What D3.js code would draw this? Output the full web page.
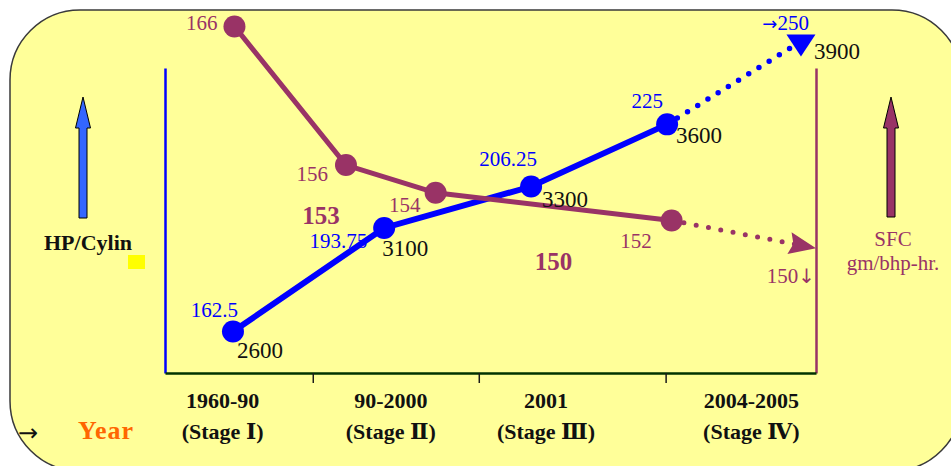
<!DOCTYPE html>
<html>
<head>
<meta charset="utf-8">
<script src="https://cdn.jsdelivr.net/npm/d3@7"></script>
<style>
  html, body { margin: 0; padding: 0; background: #fff; }
  svg { display: block; }
  text { font-family: "Liberation Serif", "Times New Roman", "DejaVu Serif", serif; }
  .arrowGlyph { font-family: "DejaVu Sans", sans-serif; }
</style>
</head>
<body>
<svg id="chart" width="951" height="466"></svg>
<script>
// ---- Data -------------------------------------------------------------
// Development stages along the time axis
const stages = ["1960-90", "90-2000", "2001", "2004-2005"];
const stageNames = ["(Stage Ⅰ)", "(Stage Ⅱ)", "(Stage Ⅲ)", "(Stage Ⅳ)"];

// Horsepower per cylinder (position measured in stage units) and rated speed
const hpStagePos = [0.46, 1.43, 2.28, 3.01];
const hpPerCyl = [162.5, 193.75, 206.25, 225];
const hpLabels = ["162.5", "193.75", "206.25", "225"];
const rpm = [2600, 3100, 3300, 3600];
const hpTargetPos = 3.9;
const hpTarget = 250;
const rpmTarget = 3900;

// Specific fuel consumption, gm/bhp-hr
const sfcStagePos = [0.47, 1.2, 1.74, 3.04];
const sfc = [166, 156, 154, 152];
const sfcTargetPos = 4.0;
const sfcTarget = 150;

// Free-standing SFC notes
const noteStagePos = [1.05, 2.4];
const noteValues = [153, 150];

// ---- Layout -----------------------------------------------------------
const W = 951, H = 466;
const plot = { left: 165, right: 816, top: 68, bottom: 373 };
const C = {
  bg: "#FFFF99", border: "#3a3a3a", hp: "#0000FF", sfc: "#993366",
  hpArrow: "#3366FF", axisX: "#003300", year: "#FF6600", swatch: "#FFFF00"
};
// stage boundaries are not evenly spaced along the axis
const stageBreaks = [0, 0.227, 0.482, 0.769, 1];
const stageLabelAt = [0.39, 1.47, 2.36, 3.57];

// label offsets from their marks: [dx, dy]
const hpLabelOff = [[5, -15], [-17, 20], [6, -21], [-4, -16]];
const rpmLabelOff = [[4, 26], [-2, 28], [11, 20], [9, 19]];
const sfcLabelOff = [[-17, 4], [-18, 16], [-15, 19], [-20, 27]];
const noteOff = [17, 22];

const svg = d3.select("#chart");

const x = d3.scaleLinear()
  .domain([0, 1, 2, 3, 4])
  .range(stageBreaks.map(f => plot.left + f * (plot.right - plot.left)));
const yHP = d3.scaleLinear().domain([150, 242]).range([plot.bottom, plot.top]);
const ySFC = d3.scaleLinear().domain([141, 163]).range([plot.bottom, plot.top]);

// ---- Panel ------------------------------------------------------------
svg.append("rect")
  .attr("x", 10).attr("y", 10)
  .attr("width", 952).attr("height", 461)
  .attr("rx", 70).attr("ry", 70)
  .attr("fill", C.bg)
  .attr("stroke", C.border).attr("stroke-width", 1.5);

// ---- Axes -------------------------------------------------------------
const gl = svg.append("g").attr("transform", `translate(${plot.left},0)`)
  .call(d3.axisLeft(yHP).tickValues([]).tickSizeOuter(0));
gl.select(".domain").attr("stroke", C.hp).attr("stroke-width", 2.5);

const gr = svg.append("g").attr("transform", `translate(${plot.right},0)`)
  .call(d3.axisRight(ySFC).tickValues([]).tickSizeOuter(0));
gr.select(".domain").attr("stroke", C.sfc).attr("stroke-width", 2.5);

const gx = svg.append("g").attr("transform", `translate(0,${plot.bottom})`)
  .call(d3.axisBottom(x).tickValues([1, 2, 3]).tickSize(10).tickSizeOuter(0).tickFormat(""));
gx.select(".domain").attr("stroke", C.axisX).attr("stroke-width", 2.5);
gx.selectAll(".tick line").attr("stroke", "#1a1a1a").attr("stroke-width", 1.5);

// stage labels
stages.forEach((s, i) => {
  const t = svg.append("text")
    .attr("x", x(stageLabelAt[i]))
    .attr("text-anchor", "middle")
    .attr("font-size", 22).attr("font-weight", "bold").attr("fill", "#111");
  t.append("tspan").attr("x", x(stageLabelAt[i])).attr("y", plot.bottom + 35).text(s);
  t.append("tspan").attr("x", x(stageLabelAt[i])).attr("y", plot.bottom + 66).text(stageNames[i]);
});

svg.append("text").attr("class", "arrowGlyph").attr("x", 18).attr("y", 441)
  .attr("font-size", 24).attr("fill", "#111").text("→");
svg.append("text").attr("x", 78).attr("y", 439)
  .attr("font-size", 26).attr("font-weight", "bold").attr("letter-spacing", 1)
  .attr("fill", C.year).text("Year");

// ---- Side arrows and axis titles --------------------------------------
function blockArrow(cx, tipY, baseY, bottomY) {
  return `M${cx},${tipY} L${cx - 7.5},${baseY} L${cx - 4},${baseY} L${cx - 4},${bottomY}` +
         ` L${cx + 4},${bottomY} L${cx + 4},${baseY} L${cx + 7.5},${baseY} Z`;
}
svg.append("path").attr("d", blockArrow(83, 97, 128, 218))
  .attr("fill", C.hpArrow).attr("stroke", "#000").attr("stroke-width", 1);
svg.append("path").attr("d", blockArrow(891, 97, 128, 217))
  .attr("fill", C.sfc).attr("stroke", "#000").attr("stroke-width", 1);

svg.append("text").attr("x", 88).attr("y", 250).attr("text-anchor", "middle")
  .attr("font-size", 22).attr("font-weight", "bold").attr("fill", "#111").text("HP/Cylin");
svg.append("rect").attr("x", 128).attr("y", 255).attr("width", 17).attr("height", 14)
  .attr("fill", C.swatch);

svg.append("text").attr("x", 893).attr("y", 246).attr("text-anchor", "middle")
  .attr("font-size", 21).attr("fill", C.sfc).text("SFC");
svg.append("text").attr("x", 893).attr("y", 270).attr("text-anchor", "middle")
  .attr("font-size", 21).attr("fill", C.sfc).text("gm/bhp-hr.");

// ---- Series -----------------------------------------------------------
const line = d3.line().x(d => d.x).y(d => d.y);

const hpPts = hpPerCyl.map((v, i) => ({ x: x(hpStagePos[i]), y: yHP(v) }));
const hpEnd = { x: x(hpTargetPos), y: yHP(hpTarget) };
const sfcPts = sfc.map((v, i) => ({ x: x(sfcStagePos[i]), y: ySFC(v) }));
const sfcEnd = { x: x(sfcTargetPos), y: ySFC(sfcTarget) };

// HP/Cylinder line
svg.append("path").attr("d", line(hpPts))
  .attr("fill", "none").attr("stroke", C.hp).attr("stroke-width", 6);
svg.append("path").attr("d", line([hpPts[hpPts.length - 1], hpEnd]))
  .attr("fill", "none").attr("stroke", C.hp).attr("stroke-width", 5.5)
  .attr("stroke-linecap", "round").attr("stroke-dasharray", "0 12");

// SFC line
const lastS = sfcPts[sfcPts.length - 1];
const ang = Math.atan2(sfcEnd.y - lastS.y, sfcEnd.x - lastS.x);
const ux = Math.cos(ang), uy = Math.sin(ang);
const headLen = 27, headHalf = 11;
const base = { x: sfcEnd.x - headLen * ux, y: sfcEnd.y - headLen * uy };

svg.append("path").attr("d", line(sfcPts))
  .attr("fill", "none").attr("stroke", C.sfc).attr("stroke-width", 5);
svg.append("path").attr("d", line([lastS, { x: base.x + 6 * ux, y: base.y + 6 * uy }]))
  .attr("fill", "none").attr("stroke", C.sfc).attr("stroke-width", 5)
  .attr("stroke-linecap", "round").attr("stroke-dasharray", "0 12.5");
svg.append("path")
  .attr("d", `M${sfcEnd.x},${sfcEnd.y} L${base.x - headHalf * uy},${base.y + headHalf * ux}` +
             ` L${base.x + 4 * ux},${base.y + 4 * uy} L${base.x + headHalf * uy},${base.y - headHalf * ux} Z`)
  .attr("fill", C.sfc);

// markers
svg.selectAll(".hpDot").data(hpPts).join("circle").attr("class", "hpDot")
  .attr("cx", d => d.x).attr("cy", d => d.y).attr("r", 11).attr("fill", C.hp);
svg.append("path")
  .attr("d", `M${hpEnd.x - 14.5},${hpEnd.y - 7} L${hpEnd.x + 14.5},${hpEnd.y - 7} L${hpEnd.x},${hpEnd.y + 15} Z`)
  .attr("fill", C.hp);
svg.selectAll(".sfcDot").data(sfcPts).join("circle").attr("class", "sfcDot")
  .attr("cx", d => d.x).attr("cy", d => d.y).attr("r", 11).attr("fill", C.sfc);

// ---- Value labels -----------------------------------------------------
svg.selectAll(".hpLab").data(hpPts).join("text").attr("class", "hpLab")
  .attr("x", (d, i) => d.x + hpLabelOff[i][0]).attr("y", (d, i) => d.y + hpLabelOff[i][1])
  .attr("text-anchor", "end").attr("font-size", 21).attr("fill", C.hp)
  .text((d, i) => hpLabels[i]);
const tgt = svg.append("text").attr("x", hpEnd.x + 8).attr("y", hpEnd.y - 11)
  .attr("text-anchor", "end").attr("font-size", 21).attr("fill", C.hp);
tgt.append("tspan").attr("class", "arrowGlyph").attr("font-size", 18).text("→");
tgt.append("tspan").text(hpTarget);

svg.selectAll(".rpmLab").data(hpPts).join("text").attr("class", "rpmLab")
  .attr("x", (d, i) => d.x + rpmLabelOff[i][0]).attr("y", (d, i) => d.y + rpmLabelOff[i][1])
  .attr("font-size", 23).attr("fill", "#111")
  .text((d, i) => rpm[i]);
svg.append("text").attr("x", hpEnd.x + 13).attr("y", hpEnd.y + 18)
  .attr("font-size", 23).attr("fill", "#111").text(rpmTarget);

svg.selectAll(".sfcLab").data(sfcPts).join("text").attr("class", "sfcLab")
  .attr("x", (d, i) => d.x + sfcLabelOff[i][0]).attr("y", (d, i) => d.y + sfcLabelOff[i][1])
  .attr("text-anchor", "end").attr("font-size", 21).attr("fill", C.sfc)
  .text((d, i) => sfc[i]);
const low = svg.append("text").attr("x", sfcEnd.x - 1).attr("y", sfcEnd.y + 35)
  .attr("text-anchor", "end").attr("font-size", 21).attr("fill", C.sfc);
low.append("tspan").text(sfcTarget);
low.append("tspan").attr("class", "arrowGlyph").attr("font-size", 20).attr("dx", 0).text("↓");

noteValues.forEach((v, i) => {
  svg.append("text")
    .attr("x", x(noteStagePos[i])).attr("y", ySFC(v) + noteOff[i])
    .attr("text-anchor", "middle").attr("font-size", 25).attr("font-weight", "bold")
    .attr("fill", C.sfc).text(v);
});
</script>
</body>
</html>
